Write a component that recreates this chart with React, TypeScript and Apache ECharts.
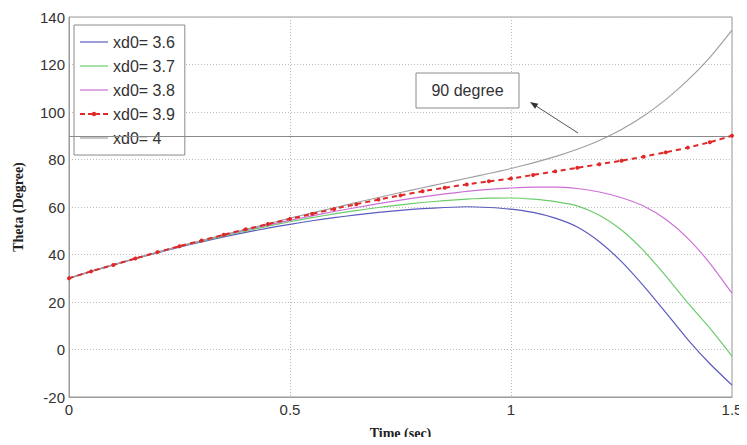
import React, { useEffect, useRef } from "react";
import * as echarts from "echarts";

const times = [0, 0.05, 0.1, 0.15, 0.2, 0.25, 0.3, 0.35, 0.4, 0.45, 0.5, 0.55, 0.6, 0.65, 0.7, 0.75, 0.8, 0.85, 0.9, 0.95, 1, 1.05, 1.1, 1.15, 1.2, 1.25, 1.3, 1.35, 1.4, 1.45, 1.5];

const theta36 = [30, 32.9, 35.6, 38.2, 40.7, 43.1, 45.3, 47.4, 49.3, 51.1, 52.7, 54.2, 55.5, 56.7, 57.7, 58.6, 59.3, 59.8, 60.1, 59.8, 59.1, 57.7, 55.3, 51.6, 45.4, 37, 26.8, 15.6, 4.2, -6, -15];
const theta37 = [30, 32.9, 35.6, 38.3, 40.9, 43.3, 45.6, 47.8, 49.9, 51.9, 53.8, 55.5, 57.1, 58.5, 59.8, 60.9, 61.9, 62.7, 63.3, 63.7, 63.8, 63.3, 62.3, 60.5, 56.5, 50.3, 41.6, 31, 19.6, 9, -2.8];
const theta38 = [30, 32.9, 35.6, 38.3, 40.9, 43.4, 45.8, 48.1, 50.3, 52.4, 54.4, 56.3, 58.1, 59.8, 61.4, 62.9, 64.3, 65.5, 66.6, 67.4, 68, 68.4, 68.4, 67.8, 66.3, 63.9, 60.4, 54.8, 46.8, 36.3, 23.7];
const theta39 = [30, 32.9, 35.6, 38.3, 41, 43.5, 45.9, 48.3, 50.6, 52.8, 55, 57.1, 59.2, 61.2, 63.1, 64.9, 66.6, 68.1, 69.5, 70.8, 72, 73.5, 75, 76.5, 78, 79.5, 81.2, 83, 85, 87.3, 90];
const theta40 = [30, 32.9, 35.6, 38.3, 41, 43.5, 45.9, 48.3, 50.6, 52.9, 55.3, 57.5, 59.7, 61.9, 64, 66.1, 68.1, 70.1, 72.1, 74.1, 76.2, 78.6, 81.2, 84.3, 88, 92.6, 98.3, 105.2, 113.4, 123, 134.5];

const seriesNames = ["xd0= 3.6", "xd0= 3.7", "xd0= 3.8", "xd0= 3.9", "xd0= 4"];
const seriesValues = [theta36, theta37, theta38, theta39, theta40];
const seriesColors = ["#5b5bbf", "#6ccc6c", "#cc70d6", "#e02828", "#a0a0a0"];

const xTicks = [0, 0.5, 1, 1.5];
const yTicks = [-20, 0, 20, 40, 60, 80, 100, 120, 140];
const referenceLevel = 90;
const annotationText = "90 degree";

const solidIcon = "path://M0,0h28v1.2h-28z";
const dashedMarkerIcon =
  "path://M0,2.5h5v2h-5z M8,2.5h4v2h-4z M16,2.5h4v2h-4z M23,2.5h5v2h-5z M11.8,3.5a2.2,2.2 0 1 0 4.4,0a2.2,2.2 0 1 0 -4.4,0z";

export default function App() {
  const ref = useRef<HTMLDivElement>(null);

  useEffect(() => {
    if (!ref.current) return;
    const chart = echarts.init(ref.current, undefined, { renderer: "svg" });

    const series: any[] = seriesNames.map((name, i) => {
      const isRed = i === 3;
      const s: any = {
        name,
        type: "line",
        data: times.map((t, k) => [t, seriesValues[i][k]]),
        smooth: 0.2,
        showSymbol: isRed,
        symbol: isRed ? "circle" : "none",
        symbolSize: 4,
        itemStyle: { color: seriesColors[i] },
        lineStyle: {
          color: seriesColors[i],
          width: isRed ? 2 : 1.2,
          type: isRed ? [5, 4] : "solid",
        },
        z: isRed ? 5 : 3,
      };
      if (i === 4) {
        s.markLine = {
          silent: true,
          symbol: "none",
          label: { show: false },
          lineStyle: { color: "#8a8a8a", width: 1, type: "solid" },
          data: [{ yAxis: referenceLevel }],
        };
      }
      return s;
    });

    chart.setOption({
      animation: false,
      backgroundColor: "#ffffff",
      grid: {
        left: 69,
        right: 15,
        top: 17,
        bottom: 48,
        show: true,
        borderColor: "#9a9a9a",
        borderWidth: 1,
      },
      legend: {
        orient: "vertical",
        left: 74,
        top: 25,
        padding: [9, 10, 9, 6],
        itemWidth: 28,
        itemHeight: 6,
        itemGap: 8,
        backgroundColor: "#ffffff",
        borderColor: "#8a8a8a",
        borderWidth: 1,
        textStyle: { fontFamily: "Arial, Liberation Sans", fontSize: 16, color: "#333" },
        data: seriesNames.map((name, i) => ({ name, icon: i === 3 ? dashedMarkerIcon : solidIcon })),
      },
      xAxis: {
        type: "value",
        min: 0,
        max: 1.5,
        interval: 0.5,
        name: "Time (sec)",
        nameLocation: "middle",
        nameGap: 29,
        nameTextStyle: { fontFamily: "Liberation Serif", fontWeight: "bold", fontSize: 14, color: "#222" },
        axisLine: { show: true, onZero: false, lineStyle: { color: "#9a9a9a" } },
        axisTick: { show: false },
        axisLabel: {
          fontFamily: "Arial, Liberation Sans",
          fontSize: 15,
          color: "#333",
          margin: 5,
          formatter: (v: number) => (xTicks.includes(v) ? String(v) : ""),
        },
        splitLine: { show: true, lineStyle: { color: "#bdbdbd", type: [1, 2] } },
      },
      yAxis: {
        type: "value",
        min: -20,
        max: 140,
        interval: 20,
        name: "Theta (Degree)",
        nameLocation: "middle",
        nameGap: 44,
        nameTextStyle: { fontFamily: "Liberation Serif", fontWeight: "bold", fontSize: 14, color: "#222" },
        axisLine: { show: true, onZero: false, lineStyle: { color: "#9a9a9a" } },
        axisTick: { show: false },
        axisLabel: {
          fontFamily: "Arial, Liberation Sans",
          fontSize: 15,
          color: "#333",
          margin: 4,
          formatter: (v: number) => (yTicks.includes(v) ? String(v) : ""),
        },
        splitLine: { show: true, lineStyle: { color: "#bdbdbd", type: [1, 2] } },
      },
      graphic: [
        {
          type: "rect",
          shape: { x: 416, y: 73, width: 103, height: 35 },
          style: { fill: "#ffffff", stroke: "#8a8a8a", lineWidth: 1 },
          z: 10,
        },
        {
          type: "text",
          x: 467.5,
          y: 90.5,
          style: {
            text: annotationText,
            fontFamily: "Arial, Liberation Sans",
            fontSize: 16,
            fill: "#333",
            align: "center",
            verticalAlign: "middle",
          },
          z: 11,
        },
        {
          type: "line",
          shape: { x1: 578, y1: 133, x2: 533, y2: 104 },
          style: { stroke: "#555", lineWidth: 1 },
          z: 10,
        },
        {
          type: "polygon",
          shape: { points: [[530, 102], [538.3, 103.8], [535.1, 108.8]] },
          style: { fill: "#333" },
          z: 10,
        },
      ],
      series,
    });

    return () => chart.dispose();
  }, []);

  return <div ref={ref} style={{ width: 747, height: 445, margin: -8 }} />;
}
